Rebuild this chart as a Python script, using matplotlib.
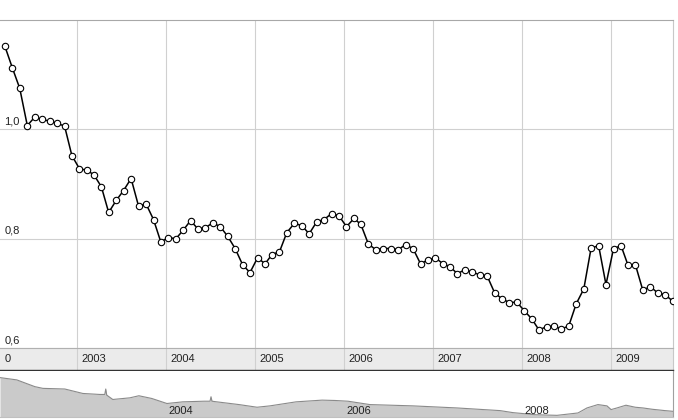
"""Price chart with year band and navigator strip."""

import matplotlib.pyplot as plt
import matplotlib.dates as mdates
import pandas as pd

plt.rcParams["font.family"] = ["Liberation Sans", "DejaVu Sans"]

# monthly closes, March 2002 .. September 2009
start_month = "2002-03-01"
values = [
    1.152, 1.112, 1.075, 1.007, 1.022, 1.018, 1.015, 1.011, 1.006, 0.952,
    0.928, 0.925, 0.917, 0.895, 0.848, 0.870, 0.888, 0.910, 0.859, 0.864,
    0.835, 0.794, 0.802, 0.800, 0.815, 0.833, 0.818, 0.820, 0.829, 0.822,
    0.804, 0.782, 0.752, 0.738, 0.765, 0.754, 0.771, 0.776, 0.811, 0.828,
    0.824, 0.809, 0.831, 0.835, 0.846, 0.842, 0.822, 0.837, 0.826, 0.790,
    0.780, 0.782, 0.782, 0.780, 0.789, 0.782, 0.754, 0.761, 0.765, 0.754,
    0.749, 0.736, 0.743, 0.739, 0.734, 0.732, 0.701, 0.690, 0.683, 0.684,
    0.668, 0.653, 0.633, 0.639, 0.640, 0.635, 0.640, 0.681, 0.708, 0.783,
    0.787, 0.716, 0.782, 0.787, 0.752, 0.752, 0.706, 0.712, 0.701, 0.697,
    0.686,
]

# navigator (full history overview)
nav_dates = [
    "2002-02-19", "2002-04-29", "2002-07-12", "2002-08-14", "2002-11-12",
    "2003-01-25", "2003-04-05", "2003-04-25", "2003-04-29", "2003-05-03",
    "2003-05-28", "2003-08-06", "2003-09-12", "2003-11-04", "2004-01-05",
    "2004-03-10", "2004-06-05", "2004-06-30", "2004-07-04", "2004-07-08",
    "2004-07-28", "2004-10-27", "2005-01-09", "2005-03-03", "2005-06-18",
    "2005-10-03", "2005-11-25", "2006-01-17", "2006-04-17", "2006-10-10",
    "2007-04-10", "2007-10-03", "2007-11-25", "2008-02-23", "2008-05-24",
    "2008-08-18", "2008-09-24", "2008-11-08", "2008-12-15", "2009-01-01",
    "2009-01-25", "2009-03-03", "2009-04-10", "2009-05-12", "2009-06-18",
    "2009-08-10", "2009-09-12",
]
nav_values = [
    1.161, 1.129, 1.035, 1.011, 1.002, 0.940, 0.926, 0.926, 1.002, 0.917,
    0.856, 0.879, 0.908, 0.870, 0.800, 0.823, 0.832, 0.832, 0.894, 0.832,
    0.823, 0.785, 0.748, 0.767, 0.823, 0.847, 0.842, 0.832, 0.785, 0.767,
    0.738, 0.701, 0.673, 0.644, 0.635, 0.668, 0.738, 0.785, 0.767, 0.715,
    0.738, 0.776, 0.748, 0.738, 0.720, 0.701, 0.691,
]

y_ticks = [0.6, 0.8, 1.0]
y_labels = ["0,6", "0,8", "1,0"]
band_years = [2003, 2004, 2005, 2006, 2007, 2008, 2009]
nav_years = [2004, 2006, 2008]

GRID = "#d0d0d0"
TEXT = "#222222"


def main() -> None:
    dates = pd.date_range(start_month, periods=len(values), freq="MS") + pd.Timedelta(days=10)
    nav_x = pd.to_datetime(nav_dates)
    x_min = pd.Timestamp("2002-02-19")
    x_max = pd.Timestamp("2009-09-12")

    fig = plt.figure(figsize=(6.78, 4.2), dpi=100)
    ax = fig.add_axes([0.0, 0.1714, 0.9926, 0.781])
    band = fig.add_axes([0.0, 0.119, 0.9926, 0.0524], sharex=ax)
    nav = fig.add_axes([0.0, 0.007, 0.9926, 0.110])

    # main chart
    ax.plot(
        dates,
        values,
        color="black",
        linewidth=1.1,
        marker="o",
        markersize=4.6,
        markerfacecolor="white",
        markeredgecolor="black",
        markeredgewidth=0.8,
        zorder=3,
    )
    ax.set_xlim(x_min, x_max)
    ax.set_ylim(0.6, 1.2)
    ax.xaxis.set_major_locator(mdates.YearLocator())
    ax.set_yticks(y_ticks)
    ax.grid(True, color=GRID, linewidth=0.8)
    ax.tick_params(length=0, labelbottom=False, labelleft=False)
    for val, lab in zip(y_ticks, y_labels):
        ax.annotate(
            lab,
            xy=(0, val),
            xycoords=ax.get_yaxis_transform(),
            xytext=(3, 2),
            textcoords="offset points",
            fontsize=8,
            color=TEXT,
            va="bottom",
        )
    for side in ("left", "bottom"):
        ax.spines[side].set_visible(False)
    ax.spines["top"].set_color("#a8a8a8")
    ax.spines["right"].set_color("#c8c8c8")

    # year band
    band.set_facecolor("#ebebeb")
    band.set_ylim(0, 1)
    band.set_yticks([])
    band.grid(True, axis="x", color=GRID, linewidth=0.8)
    band.tick_params(length=0, labelbottom=False)
    band.annotate("0", xy=(0, 0.5), xycoords="axes fraction", xytext=(3, 0),
                  textcoords="offset points", fontsize=8, color=TEXT, va="center")
    for yr in band_years:
        band.annotate(
            str(yr),
            xy=(pd.Timestamp(f"{yr}-01-01"), 0.5),
            xycoords=("data", "axes fraction"),
            xytext=(3, 0),
            textcoords="offset points",
            fontsize=8,
            color=TEXT,
            va="center",
        )
    band.spines["left"].set_visible(False)
    band.spines["top"].set_color("#b0b0b0")
    band.spines["right"].set_color("#c8c8c8")
    band.spines["bottom"].set_color("#333333")
    band.spines["bottom"].set_linewidth(1.0)

    # navigator
    nav.fill_between(nav_x, nav_values, 0.0, color="#cacaca", linewidth=0)
    nav.plot(nav_x, nav_values, color="#8a8a8a", linewidth=0.8)
    nav.set_xlim(x_min, x_max)
    nav.set_ylim(0.611, 1.255)
    nav.set_xticks([])
    nav.set_yticks([])
    for yr in nav_years:
        nav.annotate(
            str(yr),
            xy=(pd.Timestamp(f"{yr}-01-01"), 0.03),
            xycoords=("data", "axes fraction"),
            xytext=(2, 0),
            textcoords="offset points",
            fontsize=8,
            color=TEXT,
            va="bottom",
        )
    for side in ("left", "top"):
        nav.spines[side].set_visible(False)
    nav.spines["right"].set_color("#a0a0a0")
    nav.spines["bottom"].set_color("#c0c0c0")

    fig.savefig("out.png", dpi=100)
    plt.close(fig)


if __name__ == "__main__":
    main()
